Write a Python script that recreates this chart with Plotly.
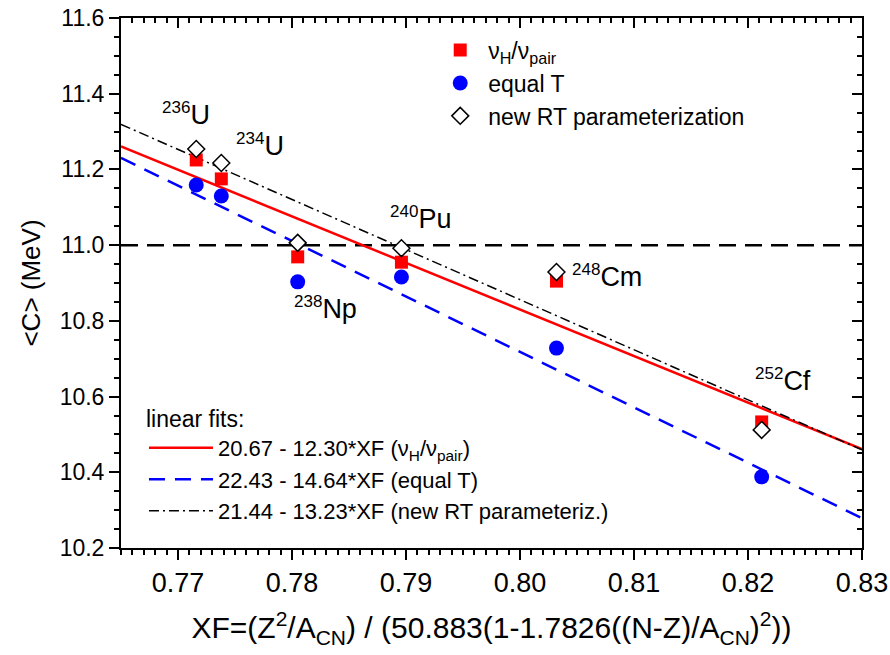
import plotly.graph_objects as go

# ---- data ----
nuclei = ["236U", "234U", "238Np", "240Pu", "248Cm", "252Cf"]
xf = [0.7716, 0.7738, 0.7805, 0.7896, 0.8032, 0.8212]
c_nuh_nupair = [11.225, 11.175, 10.969, 10.955, 10.905, 10.533]
c_equal_t = [11.159, 11.130, 10.903, 10.916, 10.728, 10.388]
c_new_rt = [11.254, 11.217, 11.006, 10.992, 10.929, 10.512]

# linear fits  C = a - b*XF
fit_a = [20.67, 22.43, 21.44]
fit_b = [12.30, 14.64, 13.23]
fit_names = ["20.67 - 12.30*XF (ν<sub>H</sub>/ν<sub>pair</sub>)",
             "22.43 - 14.64*XF (equal T)",
             "21.44 - 13.23*XF (new RT parameteriz.)"]
fit_colors = ["#ff0000", "#0000ff", "#000000"]
fit_dash = ["solid", "16px,10px", "10px,4px,2px,4px"]
fit_width = [2.5, 2.5, 1.5]

x_range = [0.765, 0.83]
y_range = [10.2, 11.6]
ref_level = 11.0

# isotope labels: mass, element, left x, middle y
label_mass = ["236", "234", "240", "238", "248", "252"]
label_el = ["U", "U", "Pu", "Np", "Cm", "Cf"]
label_x = [0.7684, 0.7749, 0.7884, 0.7800, 0.8044, 0.8204]
label_y = [11.346, 11.265, 11.072, 10.834, 10.919, 10.644]

FONT = "Liberation Sans, Arial, sans-serif"

fig = go.Figure()

# reference horizontal line at 11.0
fig.add_trace(go.Scatter(x=x_range, y=[ref_level, ref_level], mode="lines",
                         line=dict(color="black", width=2.5, dash="17px,9px"),
                         showlegend=False, hoverinfo="skip"))

# fit lines
for a, b, n, col, d, w in zip(fit_a, fit_b, fit_names, fit_colors, fit_dash, fit_width):
    fig.add_trace(go.Scatter(x=x_range, y=[a - b * x for x in x_range], mode="lines",
                             line=dict(color=col, width=w, dash=d), name=n,
                             legend="legend2"))

# data points
fig.add_trace(go.Scatter(x=xf, y=c_nuh_nupair, mode="markers", name="ν<sub>H</sub>/ν<sub>pair</sub>",
                         marker=dict(symbol="square", size=13, color="#ff0000", line=dict(width=0)),
                         legend="legend"))
fig.add_trace(go.Scatter(x=xf, y=c_equal_t, mode="markers", name="equal T",
                         marker=dict(symbol="circle", size=15, color="#0000ff", line=dict(width=0)),
                         legend="legend"))
fig.add_trace(go.Scatter(x=xf, y=c_new_rt, mode="markers", name="new RT parameterization",
                         marker=dict(symbol="diamond", size=13, color="white",
                                     line=dict(color="black", width=1.5)),
                         legend="legend"))

# helper trace for the inward-ticked top/right axes
fig.add_trace(go.Scatter(x=[x_range[0]], y=[y_range[0]], xaxis="x2", yaxis="y2", mode="markers",
                         marker=dict(opacity=0), showlegend=False, hoverinfo="skip"))

for mass, el, lx, ly in zip(label_mass, label_el, label_x, label_y):
    fig.add_annotation(x=lx, y=ly, text=f"<sup><span style='font-size:17px'>{mass}</span></sup>{el}",
                       showarrow=False, xanchor="left", yanchor="middle",
                       font=dict(family=FONT, size=27, color="black"))

axis_common = dict(showgrid=False, zeroline=False, linecolor="black", linewidth=2,
                   tickcolor="black", tickwidth=1.5, automargin=False)

fig.update_layout(
    width=890, height=655,
    margin=dict(l=121, r=28, t=18, b=107),
    paper_bgcolor="white", plot_bgcolor="white",
    font=dict(family=FONT, color="black"),
    xaxis=dict(range=x_range, tick0=0.77, dtick=0.01, tickformat=".2f", ticks="outside",
               ticklen=10, mirror=True, showline=True,
               minor=dict(dtick=0.001, tick0=0.77, ticks="outside", ticklen=5, tickcolor="black", tickwidth=1.5),
               tickfont=dict(family=FONT, size=27),
               title=dict(text="XF=(Z<sup>2</sup>/A<sub>CN</sub>) / (50.883(1-1.7826((N-Z)/A<sub>CN</sub>)<sup>2</sup>))",
                          font=dict(family=FONT, size=30), standoff=20),
               **axis_common),
    yaxis=dict(range=y_range, tick0=10.2, dtick=0.2, tickformat=".1f", ticks="outside",
               ticklen=10, mirror=True, showline=True,
               minor=dict(dtick=0.05, tick0=10.2, ticks="outside", ticklen=5, tickcolor="black", tickwidth=1.5),
               tickfont=dict(family=FONT, size=23),
               title=dict(text="&lt;C&gt; (MeV)", font=dict(family=FONT, size=26), standoff=12),
               **axis_common),
    xaxis2=dict(range=x_range, overlaying="x", side="top", anchor="y2", tick0=0.77, dtick=0.01,
                ticks="inside", ticklen=10, showticklabels=False, showline=False, automargin=False,
                minor=dict(dtick=0.001, tick0=0.77, ticks="inside", ticklen=5, tickcolor="black", tickwidth=1.5),
                showgrid=False, zeroline=False, tickcolor="black", tickwidth=1.5),
    yaxis2=dict(range=y_range, overlaying="y", side="right", anchor="x2", tick0=10.2, dtick=0.2,
                ticks="inside", ticklen=10, showticklabels=False, showline=False, automargin=False,
                minor=dict(dtick=0.05, tick0=10.2, ticks="inside", ticklen=5, tickcolor="black", tickwidth=1.5),
                showgrid=False, zeroline=False, tickcolor="black", tickwidth=1.5),
    legend=dict(x=0.42, y=0.98, xanchor="left", yanchor="top", bgcolor="rgba(0,0,0,0)",
                font=dict(family=FONT, size=23), itemwidth=46, tracegroupgap=0),
    legend2=dict(x=0.031, y=0.285, xanchor="left", yanchor="top", bgcolor="rgba(0,0,0,0)",
                 font=dict(family=FONT, size=22), itemwidth=64,
                 title=dict(text="linear fits:", font=dict(family=FONT, size=23), side="top")),
)

fig.write_html("out.html")
